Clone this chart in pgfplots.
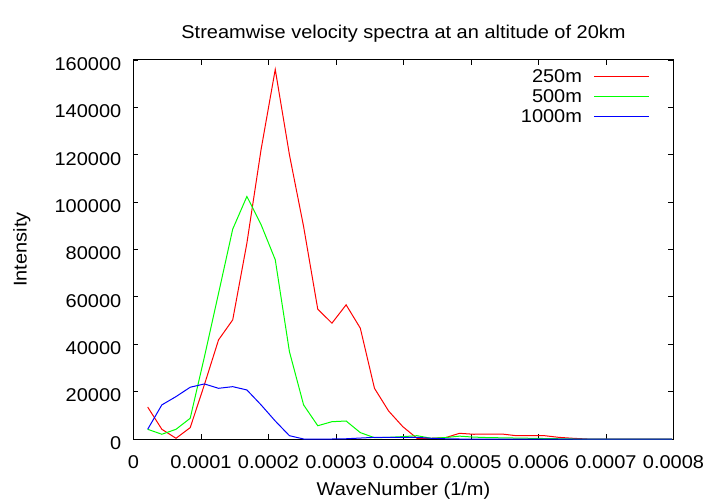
\documentclass[border=0pt]{standalone}
\usepackage{pgfplots}
\pgfplotsset{compat=1.18}
\usepackage{fontspec}
\setmainfont{Liberation Sans}[FakeStretch=1.08]
\newcommand\fsz{\fontsize{18.5bp}{22bp}\selectfont}
\begin{document}
\begin{tikzpicture}[font=\fsz]
\begin{axis}[
  at={(0,0)}, anchor=south west,
  scale only axis, width=540bp, height=379bp,
  xmin=0, xmax=0.0008, ymin=0, ymax=160000,
  xtick={0,0.0001,0.0002,0.0003,0.0004,0.0005,0.0006,0.0007,0.0008},
  xticklabels={0,0.0001,0.0002,0.0003,0.0004,0.0005,0.0006,0.0007,0.0008},
  ytick={0,20000,40000,60000,80000,100000,120000,140000,160000},
  yticklabels={0,20000,40000,60000,80000,100000,120000,140000,160000},
  scaled x ticks=false, scaled y ticks=false,
  /pgf/number format/assume math mode=true,
  tick align=inside, major tick length=5bp,
  tick style={black, line width=0.8bp},
  axis line style={black, line width=1bp},
  xticklabel style={font=\fsz, inner sep=0pt, yshift=-16bp},
  yticklabel style={font=\fsz, inner sep=0pt, xshift=-12bp, yshift=-4bp},
  xlabel={WaveNumber (1/m)},
  ylabel={Intensity},
  xlabel style={font=\fsz, at={(axis description cs:0.5,-0.1496)}, anchor=base},
  ylabel style={font=\fsz, at={(axis description cs:-0.1978,0.5)}, anchor=base},
  title={Streamwise velocity spectra at an altitude of 20km},
  title style={font=\fsz, at={(axis description cs:0.5,1.0422)}, anchor=base},
  legend plot pos=right,
  legend cell align=right,
  legend style={draw=none, fill=none, font=\fsz,
    at={(axis description cs:1,1)}, anchor=north east,
    xshift=-23.5bp, yshift=-9.3bp, inner sep=0pt, outer sep=0pt,
    row sep=6.5bp, column sep=12bp,
    nodes={inner sep=0pt, text height=13.5bp, text depth=0pt}},
  legend image code/.code={\draw[#1] (0bp,0bp) -- (55bp,0bp);},
]
\addplot[color=red, line width=1bp] coordinates {
(0.000021,13500) (0.000042,4100) (0.000063,300) (0.000084,4800)
(0.000105,22900) (0.000126,41850) (0.000147,50300) (0.000168,82700)
(0.000189,122200) (0.000210,156000) (0.000231,120000) (0.000252,89700)
(0.000273,54800) (0.000294,48900) (0.000315,56640) (0.000336,46800)
(0.000357,21400) (0.000378,11800) (0.000399,5200) (0.000420,300)
(0.000441,300) (0.000462,550) (0.000483,2400) (0.000504,2000)
(0.000525,2100) (0.000546,2100) (0.000567,1400) (0.000588,1400)
(0.000609,1400) (0.000630,700) (0.000651,300) (0.000672,0)
(0.000693,0) (0.000714,0) (0.000735,0) (0.000756,0) (0.000777,0) (0.000798,0)
};
\addlegendentry{250m}
\addplot[color=green, line width=1bp] coordinates {
(0.000021,4100) (0.000042,2000) (0.000063,4100) (0.000084,8750)
(0.000105,34600) (0.000126,61500) (0.000147,88600) (0.000168,102400)
(0.000189,90500) (0.000210,75700) (0.000231,36900) (0.000252,14400)
(0.000273,5600) (0.000294,7300) (0.000315,7600) (0.000336,2700)
(0.000357,550) (0.000378,700) (0.000399,1000) (0.000420,1400)
(0.000441,300) (0.000462,600) (0.000483,1200) (0.000504,800)
(0.000525,600) (0.000546,500) (0.000567,400) (0.000588,300)
(0.000609,200) (0.000630,100) (0.000651,0) (0.000672,0)
(0.000693,0) (0.000714,0) (0.000735,0) (0.000756,0) (0.000777,0) (0.000798,0)
};
\addlegendentry{500m}
\addplot[color=blue, line width=1bp] coordinates {
(0.000021,4100) (0.000042,14400) (0.000063,17900) (0.000084,21850)
(0.000105,23250) (0.000126,21400) (0.000147,22100) (0.000168,20700)
(0.000189,14400) (0.000210,7600) (0.000231,1400) (0.000252,0)
(0.000273,0) (0.000294,0) (0.000315,100) (0.000336,400)
(0.000357,700) (0.000378,700) (0.000399,700) (0.000420,700)
(0.000441,300) (0.000462,100) (0.000483,0) (0.000504,0)
(0.000525,0) (0.000546,0) (0.000567,0) (0.000588,0)
(0.000609,0) (0.000630,0) (0.000651,0) (0.000672,0)
(0.000693,0) (0.000714,0) (0.000735,0) (0.000756,0) (0.000777,0) (0.000798,0)
};
\addlegendentry{1000m}
\end{axis}
\useasboundingbox (-133.5bp,-65bp) rectangle (586.5bp,439bp);
\end{tikzpicture}
\end{document}
